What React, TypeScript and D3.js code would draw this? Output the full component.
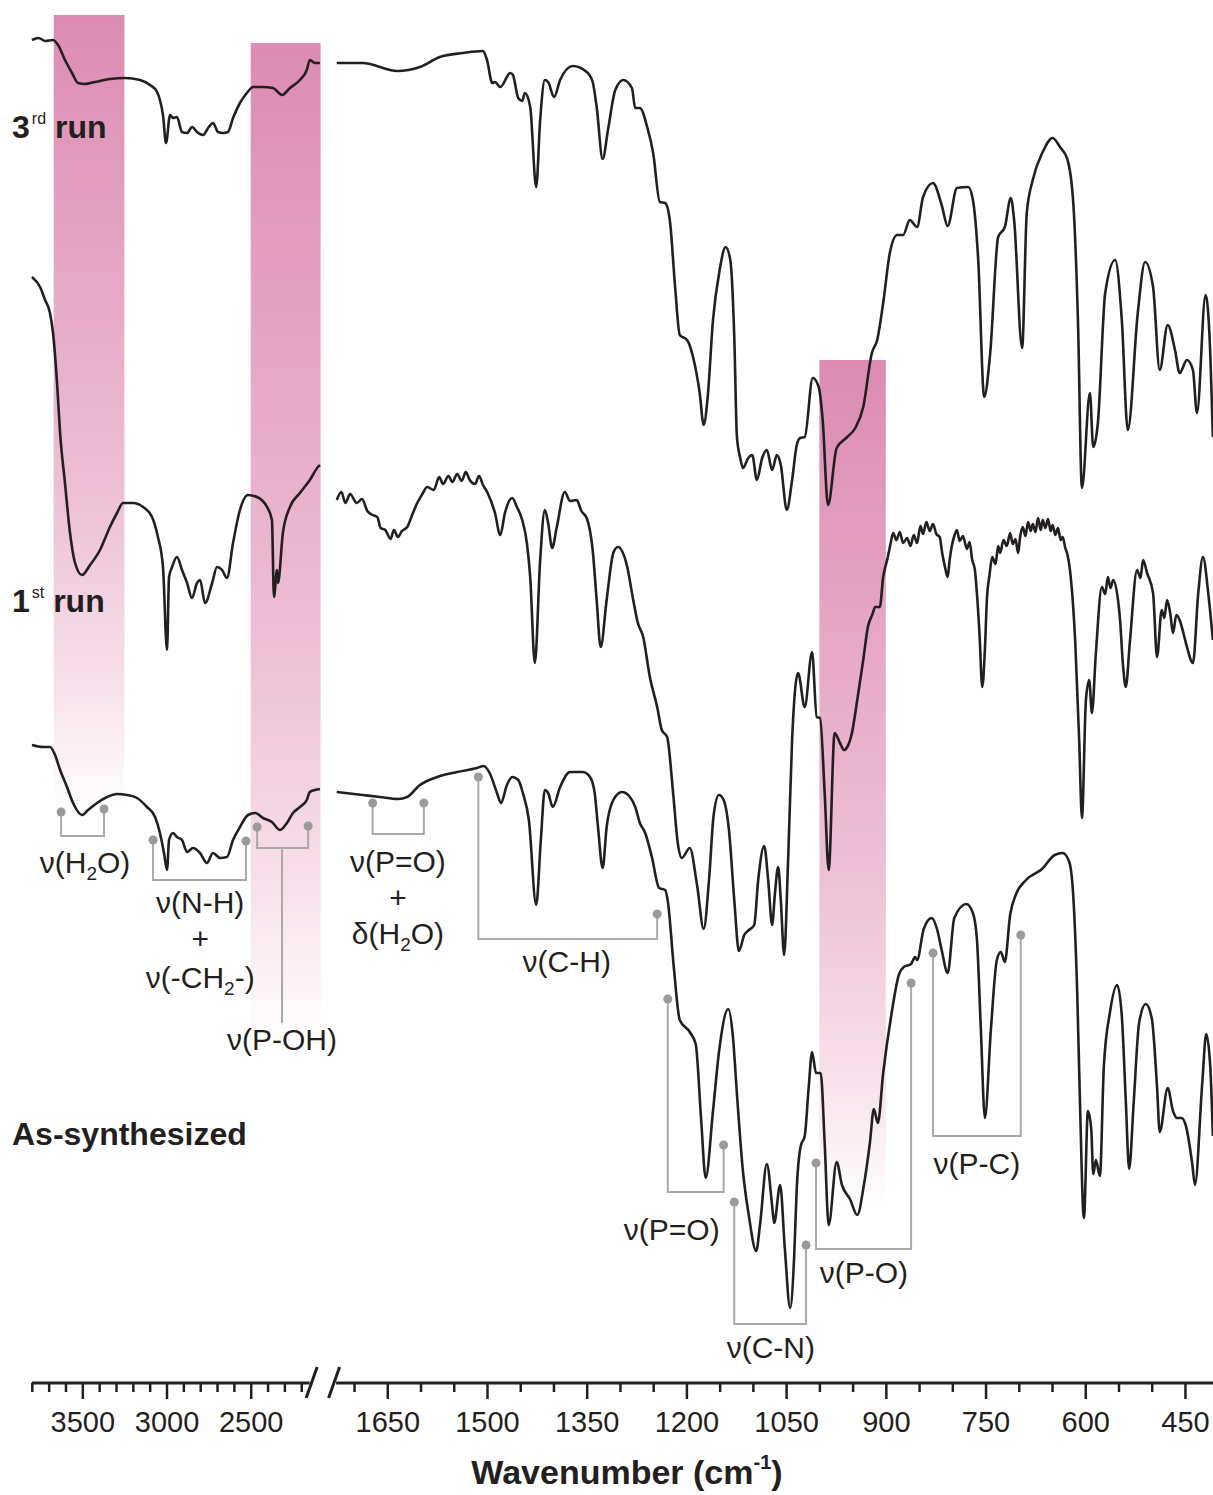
import React, { useEffect, useRef } from "react";
import * as d3 from "d3";

const W = 1213;
const H = 1495;

// [wavenumber (cm-1), transmittance (a.u., traces stacked)]
const run3High = [
  [3799, 136.0], [3760, 136.2], [3720, 135.9], [3674, 136.0], [3644, 135.5], [3603, 134.0],
  [3561, 132.7], [3526, 131.7], [3484, 131.6], [3425, 131.8], [3336, 132.1], [3246, 132.2],
  [3157, 132.0], [3098, 131.5], [3056, 130.8], [3039, 130.0], [3021, 128.5], [3003, 125.7],
  [2979, 128.5], [2961, 128.2], [2938, 128.3], [2908, 126.8], [2878, 126.7], [2848, 127.3],
  [2819, 126.8], [2783, 126.5], [2753, 127.2], [2724, 127.7], [2694, 126.8], [2665, 126.7],
  [2635, 126.8], [2605, 128.2], [2564, 129.7], [2523, 130.7], [2486, 131.3], [2427, 131.3],
  [2368, 131.2], [2314, 130.5], [2267, 131.2], [2208, 132.0], [2167, 133.0], [2149, 134.0],
  [2119, 133.7], [2089, 133.7],
];
const run3Low = [
  [1726, 133.7], [1687, 133.7], [1635, 132.9], [1601, 133.3], [1571, 134.3], [1536, 134.7],
  [1506, 134.9], [1500, 134.0], [1492, 131.7], [1488, 131.8], [1480, 131.3], [1465, 132.7],
  [1461, 132.5], [1453, 130.2], [1447, 129.9], [1443, 130.7], [1435, 129.3], [1426, 121.3],
  [1420, 128.0], [1413, 132.0], [1408, 131.8], [1399, 130.3], [1390, 132.0], [1371, 133.4],
  [1350, 132.8], [1341, 131.8], [1335, 129.3], [1326, 124.1], [1318, 127.0], [1307, 131.0],
  [1295, 132.0], [1282, 131.2], [1277, 129.2], [1270, 129.2], [1259, 127.3], [1250, 124.7],
  [1240, 119.8], [1232, 119.7], [1225, 118.0], [1217, 111.3], [1210, 106.5], [1199, 106.0],
  [1190, 104.3], [1180, 100.7], [1174, 97.5], [1168, 100.3], [1160, 108.0], [1150, 113.0],
  [1141, 115.3], [1134, 114.0], [1128, 106.3], [1124, 96.3], [1119, 94.2], [1115, 93.2],
  [1107, 94.2], [1101, 94.5], [1094, 92.0], [1086, 94.2], [1079, 95.0], [1071, 93.0],
  [1064, 94.5], [1058, 93.5], [1049, 89.0], [1041, 92.0], [1034, 95.5], [1029, 96.2],
  [1022, 96.3], [1010, 102.2], [1001, 101.3], [995, 98.0], [987, 89.5], [974, 95.2],
  [958, 96.3], [946, 97.2], [934, 99.3], [921, 104.7], [913, 106.0], [904, 109.7],
  [894, 114.7], [883, 116.5], [874, 116.5], [864, 118.0], [853, 117.3], [844, 120.3],
  [829, 121.7], [816, 119.5], [807, 117.4], [793, 121.2], [776, 121.3], [769, 120.0],
  [761, 114.0], [752, 100.3], [743, 104.7], [731, 116.3], [721, 117.3], [712, 120.2],
  [707, 118.0], [695, 105.2], [688, 118.7], [679, 122.0], [664, 124.8], [649, 126.2],
  [638, 125.3], [627, 124.1], [618, 119.7], [611, 108.0], [605, 91.2], [593, 100.7],
  [588, 95.3], [581, 97.7], [570, 110.7], [555, 114.0], [545, 108.0], [536, 97.0],
  [521, 108.7], [510, 113.8], [498, 111.3], [488, 103.0], [476, 107.5], [465, 105.0],
  [458, 102.7], [447, 104.0], [438, 103.0], [432, 98.7], [419, 110.5], [413, 106.3],
  [408, 96.3],
];

const run1High = [
  [3799, 112.3], [3751, 111.3], [3721, 110.0], [3692, 108.7], [3674, 106.7], [3650, 101.7],
  [3632, 96.7], [3603, 91.7], [3573, 86.7], [3543, 83.7], [3502, 82.5], [3454, 83.5],
  [3395, 85.0], [3336, 87.3], [3294, 88.7], [3258, 89.7], [3199, 89.7], [3139, 89.3],
  [3086, 88.3], [3051, 86.3], [3021, 83.3], [2997, 75.0], [2985, 82.3], [2967, 83.3],
  [2938, 84.3], [2908, 83.0], [2878, 81.7], [2849, 80.2], [2819, 81.7], [2801, 82.0],
  [2771, 79.7], [2729, 81.7], [2700, 83.3], [2670, 83.0], [2641, 82.2], [2605, 85.7],
  [2564, 89.0], [2516, 90.5], [2463, 90.3], [2403, 89.3], [2374, 88.0], [2362, 80.3],
  [2344, 83.0], [2338, 81.7], [2309, 86.7], [2267, 89.3], [2208, 90.7], [2149, 92.0],
  [2101, 93.3], [2089, 93.5],
];
const run1Low = [
  [1726, 90.0], [1719, 90.8], [1713, 89.7], [1706, 90.6], [1696, 89.7], [1688, 90.1],
  [1680, 88.9], [1672, 88.5], [1665, 88.3], [1660, 87.2], [1653, 87.0], [1645, 86.1],
  [1640, 87.0], [1634, 86.3], [1628, 86.9], [1620, 87.3], [1612, 88.6], [1605, 89.7],
  [1598, 90.5], [1590, 91.3], [1580, 91.0], [1572, 92.3], [1566, 91.6], [1558, 92.4],
  [1552, 91.8], [1545, 92.6], [1538, 91.9], [1532, 92.8], [1526, 92.0], [1518, 91.6],
  [1512, 92.4], [1506, 91.5], [1499, 90.7], [1488, 88.7], [1480, 86.5], [1473, 88.7],
  [1462, 90.2], [1455, 89.3], [1447, 88.0], [1440, 85.7], [1435, 82.3], [1428, 73.7],
  [1420, 84.0], [1413, 89.0], [1408, 87.7], [1402, 85.2], [1395, 87.3], [1383, 90.8],
  [1375, 89.9], [1365, 90.0], [1358, 88.9], [1350, 88.2], [1341, 85.0], [1335, 80.0],
  [1329, 75.3], [1320, 80.0], [1310, 84.7], [1303, 85.3], [1289, 83.3], [1280, 80.0],
  [1273, 77.7], [1265, 76.3], [1255, 72.3], [1244, 69.3], [1237, 67.0], [1229, 66.3],
  [1220, 60.7], [1213, 55.7], [1207, 54.2], [1195, 55.2], [1184, 51.5], [1174, 47.1],
  [1166, 52.0], [1159, 58.5], [1151, 60.5], [1144, 60.0], [1136, 57.0], [1128, 50.0],
  [1121, 44.9], [1113, 46.5], [1106, 47.0], [1098, 47.5], [1092, 52.0], [1083, 55.4],
  [1077, 52.0], [1071, 47.5], [1067, 50.5], [1062, 53.3], [1058, 50.0], [1053, 44.5],
  [1047, 54.0], [1041, 66.0], [1032, 72.7], [1022, 69.3], [1011, 74.8], [1004, 68.3],
  [999, 68.2], [992, 60.7], [986, 53.0], [977, 66.7], [969, 65.7], [963, 65.0],
  [958, 65.3], [951, 66.7], [943, 70.0], [934, 74.0], [927, 77.3], [920, 78.6],
  [916, 79.3], [909, 79.3], [904, 82.3], [900, 83.5], [897, 84.3], [893, 85.6],
  [889, 86.7], [884, 86.0], [879, 86.8], [874, 85.7], [868, 86.2], [863, 85.4],
  [858, 86.5], [853, 85.7], [848, 87.4], [844, 86.6], [839, 87.8], [834, 86.9],
  [829, 87.6], [824, 86.6], [819, 86.3], [815, 84.6], [811, 83.3], [807, 82.3],
  [804, 84.0], [801, 85.3], [797, 86.4], [793, 87.0], [789, 85.9], [784, 86.4],
  [778, 85.1], [774, 85.8], [770, 84.0], [766, 83.0], [763, 80.7], [759, 76.5],
  [755, 71.3], [751, 75.0], [748, 80.0], [744, 82.5], [740, 84.3], [735, 83.6],
  [731, 85.4], [728, 84.7], [723, 86.0], [718, 85.4], [713, 86.7], [709, 85.6],
  [705, 86.1], [701, 84.7], [698, 86.3], [694, 87.3], [690, 86.4], [686, 87.8],
  [682, 86.9], [679, 87.6], [675, 86.8], [671, 88.2], [667, 87.0], [664, 88.0],
  [660, 87.2], [656, 88.1], [652, 86.9], [649, 87.5], [645, 86.5], [641, 87.2],
  [637, 86.0], [634, 86.3], [630, 85.2], [627, 84.6], [623, 83.0], [615, 75.7],
  [609, 65.7], [605, 58.2], [599, 70.0], [594, 72.0], [590, 68.7], [584, 74.7],
  [575, 81.3], [570, 80.6], [566, 82.3], [562, 81.2], [558, 82.0], [548, 78.3],
  [543, 73.3], [539, 71.3], [533, 75.7], [522, 83.0], [517, 82.2], [513, 84.0],
  [507, 82.7], [498, 80.7], [492, 74.3], [485, 79.0], [481, 78.2], [477, 80.0],
  [472, 78.6], [468, 76.7], [463, 78.5], [458, 78.0], [452, 76.6], [447, 75.3],
  [438, 73.7], [430, 80.7], [423, 84.3], [415, 80.7], [408, 76.0],
];

const asSynHigh = [
  [3799, 65.5], [3733, 65.3], [3692, 65.3], [3662, 64.5], [3632, 63.0], [3591, 61.3],
  [3555, 59.7], [3502, 58.5], [3466, 59.0], [3413, 59.7], [3353, 60.3], [3294, 60.6],
  [3235, 60.5], [3175, 60.2], [3116, 59.3], [3068, 58.3], [3039, 56.7], [3015, 54.7],
  [2997, 53.0], [2985, 56.0], [2961, 56.7], [2938, 56.3], [2908, 56.0], [2878, 54.8],
  [2843, 55.2], [2801, 54.7], [2760, 53.7], [2724, 54.7], [2682, 54.2], [2641, 54.3],
  [2605, 56.0], [2564, 57.3], [2516, 58.5], [2474, 58.7], [2427, 58.2], [2374, 57.8],
  [2326, 57.0], [2285, 57.7], [2249, 58.7], [2208, 59.3], [2167, 60.0], [2149, 60.8],
  [2119, 61.0], [2089, 61.1],
];
const asSynLow = [
  [1726, 60.8], [1687, 60.5], [1661, 60.3], [1634, 60.1], [1620, 60.3], [1601, 61.5],
  [1575, 62.3], [1545, 62.8], [1515, 63.2], [1505, 63.4], [1496, 62.7], [1485, 60.7],
  [1479, 59.7], [1470, 61.5], [1462, 62.3], [1453, 62.0], [1446, 60.7], [1437, 58.0],
  [1426, 49.5], [1419, 56.0], [1413, 61.0], [1408, 60.7], [1401, 59.3], [1390, 61.3],
  [1375, 62.8], [1356, 62.8], [1345, 62.3], [1338, 60.7], [1333, 57.3], [1326, 53.2],
  [1320, 57.3], [1310, 60.0], [1297, 60.8], [1285, 60.3], [1277, 59.3], [1270, 57.7],
  [1262, 56.7], [1252, 54.3], [1241, 51.2], [1232, 51.0], [1228, 49.9], [1219, 43.3],
  [1210, 38.0], [1195, 36.8], [1186, 35.6], [1178, 28.2], [1171, 22.2], [1160, 28.9],
  [1151, 34.8], [1137, 39.1], [1130, 36.3], [1124, 30.6], [1115, 22.9], [1106, 18.4],
  [1095, 14.9], [1089, 17.7], [1079, 23.6], [1071, 19.4], [1068, 17.7], [1059, 21.5],
  [1052, 15.2], [1044, 9.2], [1038, 14.2], [1034, 21.2], [1028, 25.4], [1022, 26.4],
  [1016, 31.3], [1011, 34.8], [1005, 32.7], [998, 32.7], [992, 25.7], [986, 17.5],
  [974, 23.8], [966, 21.5], [954, 20.1], [943, 18.5], [933, 21.5], [924, 25.7],
  [918, 29.1], [912, 27.7], [904, 32.7], [892, 38.4], [880, 42.6], [873, 43.3],
  [862, 43.6], [856, 44.3], [853, 44.0], [843, 47.1], [831, 48.2], [823, 47.1],
  [816, 45.0], [807, 42.7], [797, 48.2], [779, 49.6], [769, 48.7], [763, 46.1],
  [757, 37.0], [751, 28.2], [742, 37.0], [733, 44.0], [727, 44.8], [721, 43.8],
  [713, 48.5], [704, 50.6], [689, 52.0], [665, 53.1], [646, 54.5], [634, 54.7],
  [624, 53.8], [617, 49.2], [612, 40.5], [608, 29.9], [602, 18.2], [596, 28.9],
  [591, 27.1], [588, 22.6], [584, 24.0], [578, 22.4], [572, 33.4], [563, 38.7],
  [552, 41.5], [545, 38.4], [539, 29.9], [534, 23.1], [527, 29.9], [519, 37.7],
  [509, 39.6], [500, 38.2], [492, 31.3], [488, 26.8], [476, 31.2], [468, 28.9],
  [462, 28.2], [455, 28.2], [449, 27.5], [439, 23.6], [435, 21.5], [424, 31.7],
  [418, 36.6], [412, 33.4], [408, 26.4],
];

const leftMajor = [3500, 3000, 2500];
const rightMajor = [1650, 1500, 1350, 1200, 1050, 900, 750, 600, 450];

// highlighted regions: wavenumber span, top/bottom in a.u.
const bands = [
  { side: "L", from: 3670, to: 3250, top: 138.5, bottom: 59 },
  { side: "L", from: 2500, to: 2085, top: 135.7, bottom: 35.5 },
  { side: "R", from: 1000, to: 900, top: 104, bottom: 19 },
];

const annotations = [
  { side: "L", a: [3626, 58.8], b: [3371, 59.1], base: 56.4, tx: 3484, lines: ["ν(H_2O)"], ty: [52.7] },
  { side: "L", a: [3080, 56.0], b: [2528, 55.9], base: 52.0, tx: 2800, lines: ["ν(N-H)", "+", "ν(-CH_2-)"], ty: [48.7, 45.1, 41.2] },
  { side: "L", a: [2462, 57.3], b: [2159, 57.4], base: 55.2, stem: 37.7, tx: 2314, lines: ["ν(P-OH)"], ty: [35.0] },
  { side: "R", a: [1672, 59.7], b: [1595, 59.7], base: 56.6, tx: 1634, lines: ["ν(P=O)", "+", "δ(H_2O)"], ty: [52.8, 49.2, 45.6] },
  { side: "R", a: [1513, 62.3], b: [1244, 48.6], base: 46.1, tx: 1380, lines: ["ν(C-H)"], ty: [42.8] },
  { side: "R", a: [1228, 40.1], b: [1144, 25.5], base: 20.8, tx: 1222, lines: ["ν(P=O)"], ty: [16.0] },
  { side: "R", a: [1128, 19.8], b: [1020, 15.5], base: 7.6, tx: 1073, lines: ["ν(C-N)"], ty: [4.2] },
  { side: "R", a: [1005, 23.7], b: [862, 41.7], base: 15.1, tx: 933, lines: ["ν(P-O)"], ty: [11.7] },
  { side: "R", a: [829, 44.7], b: [697, 46.5], base: 26.4, tx: 763, lines: ["ν(P-C)"], ty: [22.6] },
];

const traceNames = [
  { main: "3", sup: "rd", rest: " run", y: 138 },
  { main: "1", sup: "st", rest: " run", y: 612 },
  { main: "As-synthesized", sup: "", rest: "", y: 1145 },
];

const FONT = "'Liberation Sans', Arial, Helvetica, sans-serif";
const INK = "#231f20";

export default function App() {
  const svgRef = useRef<SVGSVGElement>(null);

  useEffect(() => {
    const svg = d3.select(svgRef.current);
    svg.selectAll("*").remove();

    const xL = d3.scaleLinear([3800, 2085], [31.8, 320.6]);
    const xR = d3.scaleLinear([1730, 400], [334.1, 1218.2]);
    const y = d3.scaleLinear([0, 140], [1400, 0]);
    const xs = (side) => (side === "L" ? xL : xR);
    const axisY = 1383;

    svg.append("rect").attr("width", W).attr("height", H).attr("fill", "#fff");

    // gradient bands
    const defs = svg.append("defs");
    bands.forEach((b, i) => {
      const g = defs
        .append("linearGradient")
        .attr("id", `band${i}`)
        .attr("x1", 0).attr("y1", 0).attr("x2", 0).attr("y2", 1);
      g.append("stop").attr("offset", 0).attr("stop-color", "#dc8bb2");
      g.append("stop").attr("offset", 0.6).attr("stop-color", "#edbfd4");
      g.append("stop").attr("offset", 0.85).attr("stop-color", "#f7e2eb");
      g.append("stop").attr("offset", 1).attr("stop-color", "#ffffff");
      const sx = xs(b.side);
      svg
        .append("rect")
        .attr("x", sx(b.from))
        .attr("width", sx(b.to) - sx(b.from))
        .attr("y", y(b.top))
        .attr("height", y(b.bottom) - y(b.top))
        .attr("fill", `url(#band${i})`);
    });

    // spectra
    const lineL = d3.line().curve(d3.curveMonotoneX).x((d) => xL(d[0])).y((d) => y(d[1]));
    const lineR = d3.line().curve(d3.curveMonotoneX).x((d) => xR(d[0])).y((d) => y(d[1]));
    [
      [run3High, run3Low],
      [run1High, run1Low],
      [asSynHigh, asSynLow],
    ].forEach(([hi, lo]) => {
      [lineL(hi), lineR(lo)].forEach((d) =>
        svg
          .append("path")
          .attr("d", d)
          .attr("fill", "none")
          .attr("stroke", INK)
          .attr("stroke-width", 2.6)
          .attr("stroke-linejoin", "round")
      );
    });

    // assignment brackets; "_2" marks a subscript
    const writeLine = (t, str) => {
      let shift = 0;
      str.split(/(_\d)/).forEach((part) => {
        if (!part) return;
        if (part.startsWith("_")) {
          t.append("tspan").attr("font-size", 19).attr("dy", 7).text(part.slice(1));
          shift = -7;
        } else {
          t.append("tspan").attr("dy", shift).text(part);
          shift = 0;
        }
      });
    };
    annotations.forEach((a) => {
      const sx = xs(a.side);
      const xa = sx(a.a[0]);
      const xb = sx(a.b[0]);
      const yb = y(a.base);
      svg
        .append("path")
        .attr("d", `M${xa},${y(a.a[1])}V${yb}H${xb}V${y(a.b[1])}`)
        .attr("fill", "none")
        .attr("stroke", "#a9a9a9")
        .attr("stroke-width", 2);
      if (a.stem !== undefined) {
        svg
          .append("line")
          .attr("x1", sx(a.tx)).attr("x2", sx(a.tx))
          .attr("y1", yb).attr("y2", y(a.stem))
          .attr("stroke", "#a9a9a9")
          .attr("stroke-width", 2);
      }
      [a.a, a.b].forEach((p) =>
        svg.append("circle").attr("cx", sx(p[0])).attr("cy", y(p[1])).attr("r", 4.5).attr("fill", "#9b9b9b")
      );
      a.lines.forEach((ln, i) => {
        const t = svg
          .append("text")
          .attr("x", sx(a.tx))
          .attr("y", y(a.ty[i]))
          .attr("text-anchor", "middle")
          .attr("font-family", FONT)
          .attr("font-size", 30)
          .attr("fill", INK);
        writeLine(t, ln);
      });
    });

    // x axis (broken)
    const axisStroke = (g) => {
      g.select(".domain").remove();
      g.selectAll("line").attr("stroke", INK).attr("stroke-width", 2.5);
      g.selectAll("text").attr("font-family", FONT).attr("font-size", 29).attr("fill", INK);
    };
    const leftMinor = d3.range(3800, 2150, -100).filter((v) => !leftMajor.includes(v));
    const rightMinor = d3.range(1700, 400, -50).filter((v) => !rightMajor.includes(v));
    svg.append("g").attr("transform", `translate(0,${axisY})`)
      .call(d3.axisBottom(xL).tickValues(leftMinor).tickSize(9).tickFormat(() => ""))
      .call(axisStroke);
    svg.append("g").attr("transform", `translate(0,${axisY})`)
      .call(d3.axisBottom(xL).tickValues(leftMajor).tickSize(16).tickPadding(12).tickFormat(d3.format("d")))
      .call(axisStroke);
    svg.append("g").attr("transform", `translate(0,${axisY})`)
      .call(d3.axisBottom(xR).tickValues(rightMinor).tickSize(9).tickFormat(() => ""))
      .call(axisStroke);
    svg.append("g").attr("transform", `translate(0,${axisY})`)
      .call(d3.axisBottom(xR).tickValues(rightMajor).tickSize(16).tickPadding(12).tickFormat(d3.format("d")))
      .call(axisStroke);

    const leftEnd = xL(2150);
    const rightStart = xR(1727);
    svg.append("line").attr("x1", xL(3800)).attr("x2", leftEnd).attr("y1", axisY).attr("y2", axisY)
      .attr("stroke", INK).attr("stroke-width", 2.8);
    svg.append("line").attr("x1", rightStart).attr("x2", xR(400)).attr("y1", axisY).attr("y2", axisY)
      .attr("stroke", INK).attr("stroke-width", 2.8);
    [leftEnd + 2, rightStart - 2].forEach((cx) =>
      svg.append("line")
        .attr("x1", cx - 5.5).attr("y1", axisY + 15)
        .attr("x2", cx + 5.5).attr("y2", axisY - 16)
        .attr("stroke", INK).attr("stroke-width", 3)
    );

    const title = svg.append("text")
      .attr("x", 627).attr("y", 1484)
      .attr("text-anchor", "middle")
      .attr("font-family", FONT).attr("font-weight", "bold").attr("font-size", 34).attr("fill", INK);
    title.append("tspan").text("Wavenumber (cm");
    title.append("tspan").attr("font-size", 20).attr("dy", -15).text("-1");
    title.append("tspan").attr("dy", 15).text(")");

    // trace names
    traceNames.forEach((n) => {
      const t = svg.append("text")
        .attr("x", 12).attr("y", n.y)
        .attr("font-family", FONT).attr("font-weight", "bold").attr("font-size", 32).attr("fill", INK);
      t.append("tspan").text(n.main);
      if (n.sup) {
        t.append("tspan").attr("font-size", 16).attr("font-weight", "normal").attr("dy", -14).attr("dx", 2).text(n.sup);
        t.append("tspan").attr("dy", 14).text(n.rest);
      }
    });
  }, []);

  return (
    <>
      <style>{"body{margin:0}"}</style>
      <svg ref={svgRef} width={W} height={H} style={{ display: "block" }} />
    </>
  );
}
